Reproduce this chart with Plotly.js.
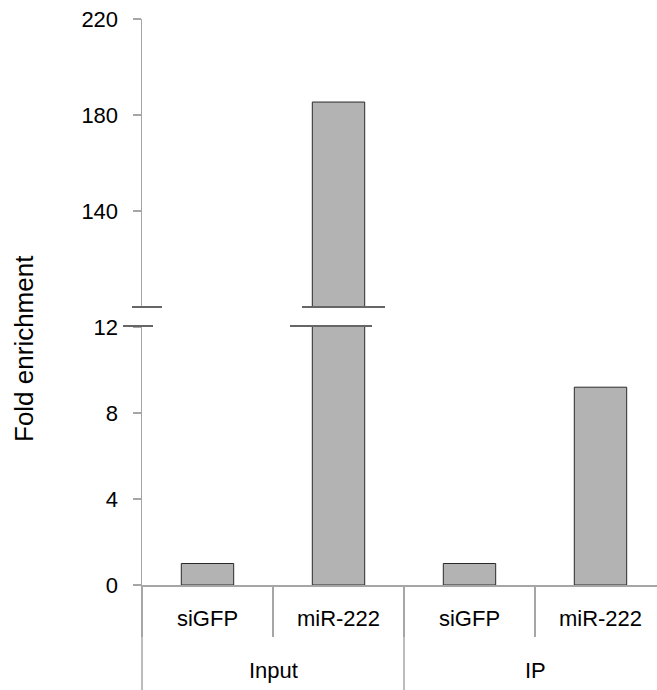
<!DOCTYPE html>
<html>
<head>
<meta charset="utf-8">
<script src="https://cdn.plot.ly/plotly-3.0.1.min.js"></script>
<style>html,body{margin:0;padding:0;background:#fff;}#chart{width:657px;height:690px;}</style>
</head>
<body>
<div id="chart"></div>
<script>
const groups = ["Input", "Input", "IP", "IP"];
const conditions = ["siGFP", "miR-222", "siGFP", "miR-222"];
const foldEnrichment = [1, 185.4, 1, 9.2];
const lowerTicks = [0, 4, 8, 12];
const upperTicks = [140, 180, 220];

const W = 657, H = 690;
const px = v => v / W;
const py = v => 1 - v / H;

const keys = groups.map((g, i) => g + " | " + conditions[i]);

const barStyle = {
  type: "bar",
  x: keys,
  y: foldEnrichment,
  width: 0.4,
  marker: {color: "#b3b3b3", line: {color: "#2a2a2a", width: 1}},
  hoverinfo: "skip",
  showlegend: false
};

const data = [
  Object.assign({}, barStyle, {xaxis: "x", yaxis: "y"}),
  Object.assign({}, barStyle, {xaxis: "x", yaxis: "y2"})
];

const tickFont = {family: "'Liberation Sans', Arial, sans-serif", size: 22, color: "#000"};
const axisGray = "#a6a6a6";

// outer group labels and divider positions, from the group array
const uniqueGroups = [...new Set(groups)];
const groupCenters = uniqueGroups.map(g => {
  const idx = groups.map((v, i) => v === g ? i : null).filter(v => v !== null);
  return idx.reduce((a, b) => a + b, 0) / idx.length;
});
const groupBounds = [];
groups.forEach((g, i) => { if (i > 0 && groups[i - 1] !== g) groupBounds.push(i - 0.5); });

const shapes = [
  // axis-break marks
  {type: "line", xref: "paper", yref: "paper", x0: px(132), x1: px(162), y0: py(307), y1: py(307), line: {color: "#666", width: 2}},
  {type: "line", xref: "paper", yref: "paper", x0: px(123), x1: px(153), y0: py(326), y1: py(326), line: {color: "#666", width: 2}},
  {type: "line", xref: "paper", yref: "paper", x0: px(302), x1: px(385), y0: py(307), y1: py(307), line: {color: "#666", width: 2}},
  {type: "line", xref: "paper", yref: "paper", x0: px(290), x1: px(372), y0: py(326), y1: py(326), line: {color: "#666", width: 2}},
  // left divider continuing the y axis down through the label area
  {type: "line", xref: "paper", yref: "paper", x0: px(142), x1: px(142), y0: py(585), y1: 0, line: {color: axisGray, width: 1.5}}
];
groupBounds.forEach(b => shapes.push(
  {type: "line", xref: "x", yref: "paper", x0: b, x1: b, y0: py(585), y1: 0, line: {color: axisGray, width: 1.5}}
));

const annotations = [
  {xref: "paper", yref: "paper", x: px(24), y: py(349), textangle: -90, showarrow: false,
   xanchor: "center", yanchor: "middle",
   text: "Fold enrichment",
   font: {family: "'Liberation Sans', Arial, sans-serif", size: 26, color: "#000"}}
];
uniqueGroups.forEach((g, i) => annotations.push(
  {xref: "x", yref: "paper", x: groupCenters[i], y: py(670), showarrow: false,
   xanchor: "center", yanchor: "middle", text: g, font: tickFont}
));

const layout = {
  width: W, height: H,
  margin: {l: 0, r: 0, t: 0, b: 0},
  paper_bgcolor: "#fff", plot_bgcolor: "rgba(0,0,0,0)",
  barmode: "overlay",
  showlegend: false,
  xaxis: {
    type: "category",
    domain: [px(142), 1],
    range: [-0.5, 3.5 - 9 / 131],
    anchor: "y",
    tickmode: "array", tickvals: keys, ticktext: conditions,
    showline: true, linecolor: axisGray, linewidth: 1.5,
    ticks: "outside", tickson: "boundaries", ticklen: 50, tickcolor: axisGray, tickwidth: 1.5,
    showgrid: false, zeroline: false,
    tickfont: tickFont, ticklabelstandoff: 13
  },
  yaxis: {
    domain: [py(585), py(327)],
    range: [0, 12],
    tickvals: lowerTicks,
    anchor: "x",
    showline: true, linecolor: axisGray, linewidth: 1.5,
    ticks: "outside", ticklen: 8, tickcolor: axisGray, tickwidth: 1.5,
    showgrid: false, zeroline: false,
    tickfont: tickFont, ticklabelstandoff: 10
  },
  yaxis2: {
    domain: [py(307), py(19)],
    range: [100, 220],
    tickvals: upperTicks,
    anchor: "x",
    showline: true, linecolor: axisGray, linewidth: 1.5,
    ticks: "outside", ticklen: 8, tickcolor: axisGray, tickwidth: 1.5,
    showgrid: false, zeroline: false,
    tickfont: tickFont, ticklabelstandoff: 10
  },
  shapes: shapes,
  annotations: annotations
};

Plotly.newPlot("chart", data, layout, {staticPlot: true, displayModeBar: false});
</script>
</body>
</html>
